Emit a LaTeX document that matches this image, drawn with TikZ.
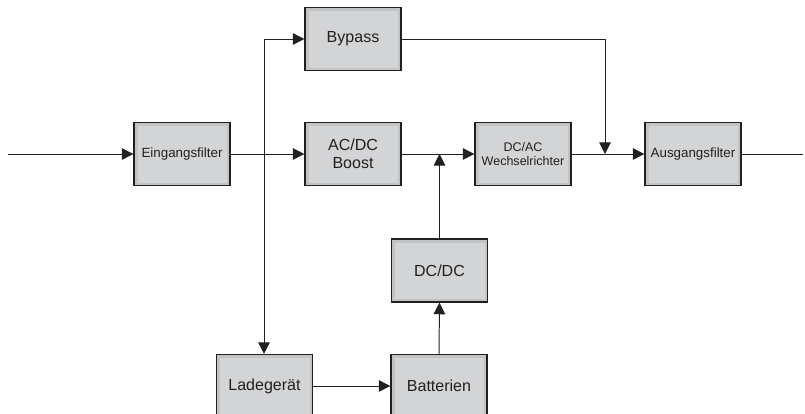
\documentclass[tikz,border=0pt]{standalone}
\usepackage{fontspec}
\setmainfont{Liberation Sans}
\usepackage{xcolor}
\usetikzlibrary{arrows.meta,positioning,calc}
\definecolor{ink}{HTML}{231F20}
\definecolor{boxedge}{HTML}{C2C3C5}
\definecolor{boxface}{HTML}{D3D4D6}
\tikzset{
  block/.style={draw=ink,fill=boxedge,line width=0.9pt,
                minimum width=2.4cm,minimum height=1.575cm,
                align=center,inner sep=2pt,text=ink,font=\fontsize{11.4}{13}\selectfont,
                path picture={\fill[boxface]
                  ([shift={(0.1cm,-0.1cm)}]path picture bounding box.north west)
                  rectangle
                  ([shift={(-0.07cm,0.07cm)}]path picture bounding box.south east);}},
  smallblock/.style={block,font=\fontsize{9.5}{11}\selectfont},
  tinyblock/.style={block,font=\fontsize{8.9}{10.5}\selectfont},
  wire/.style={draw=ink,line width=0.7pt},
  arr/.style={wire,-{Triangle[length=2.9mm,width=2.9mm]}}
}
\begin{document}
\begin{tikzpicture}[x=0.025cm,y=-0.025cm]
    \path[use as bounding box] (0,0) rectangle (805,414);

    % blocks
    \node[smallblock] (eing) at (182,154) {Eingangsfilter};
    \node[block] (bypass) at (353,39) {Bypass};
    \node[block] (boost) at (353,154) {AC/DC\\Boost};
    \node[tinyblock] (dcac) at (523,154) {DC/AC\\Wechselrichter};
    \node[smallblock] (ausg) at (693,154) {Ausgangsfilter};
    \node[block] (dcdc) at (439.5,270.5) {DC/DC};
    \node[block] (lade) at (264.5,386) {Ladeger\"at};
    \node[block] (batt) at (439,386) {Batterien};

    \coordinate (in) at (8,154);
    \coordinate (out) at (803,154);
    \coordinate (split) at (264,39);
    \coordinate (merge) at (605,154);

    % main path
    \draw[arr] (in) -- (eing);
    \draw[arr] (eing) -- (boost);
    \draw[arr] (boost) -- (dcac);
    \draw[arr] (dcac) -- (ausg);
    \draw[wire] (ausg) -- (out);

    % bypass and charger
    \draw[arr] (split) -- (bypass);
    \draw[arr] (split) -- (split |- lade.north);
    \draw[arr] (bypass) -| (merge);

    % battery branch
    \draw[arr] (lade) -- (batt);
    \draw[arr] (batt.north) -- (dcdc.south);
    \draw[arr] (dcdc.north) -- (dcdc.north |- boost.east);
  \end{tikzpicture}
\end{document}
